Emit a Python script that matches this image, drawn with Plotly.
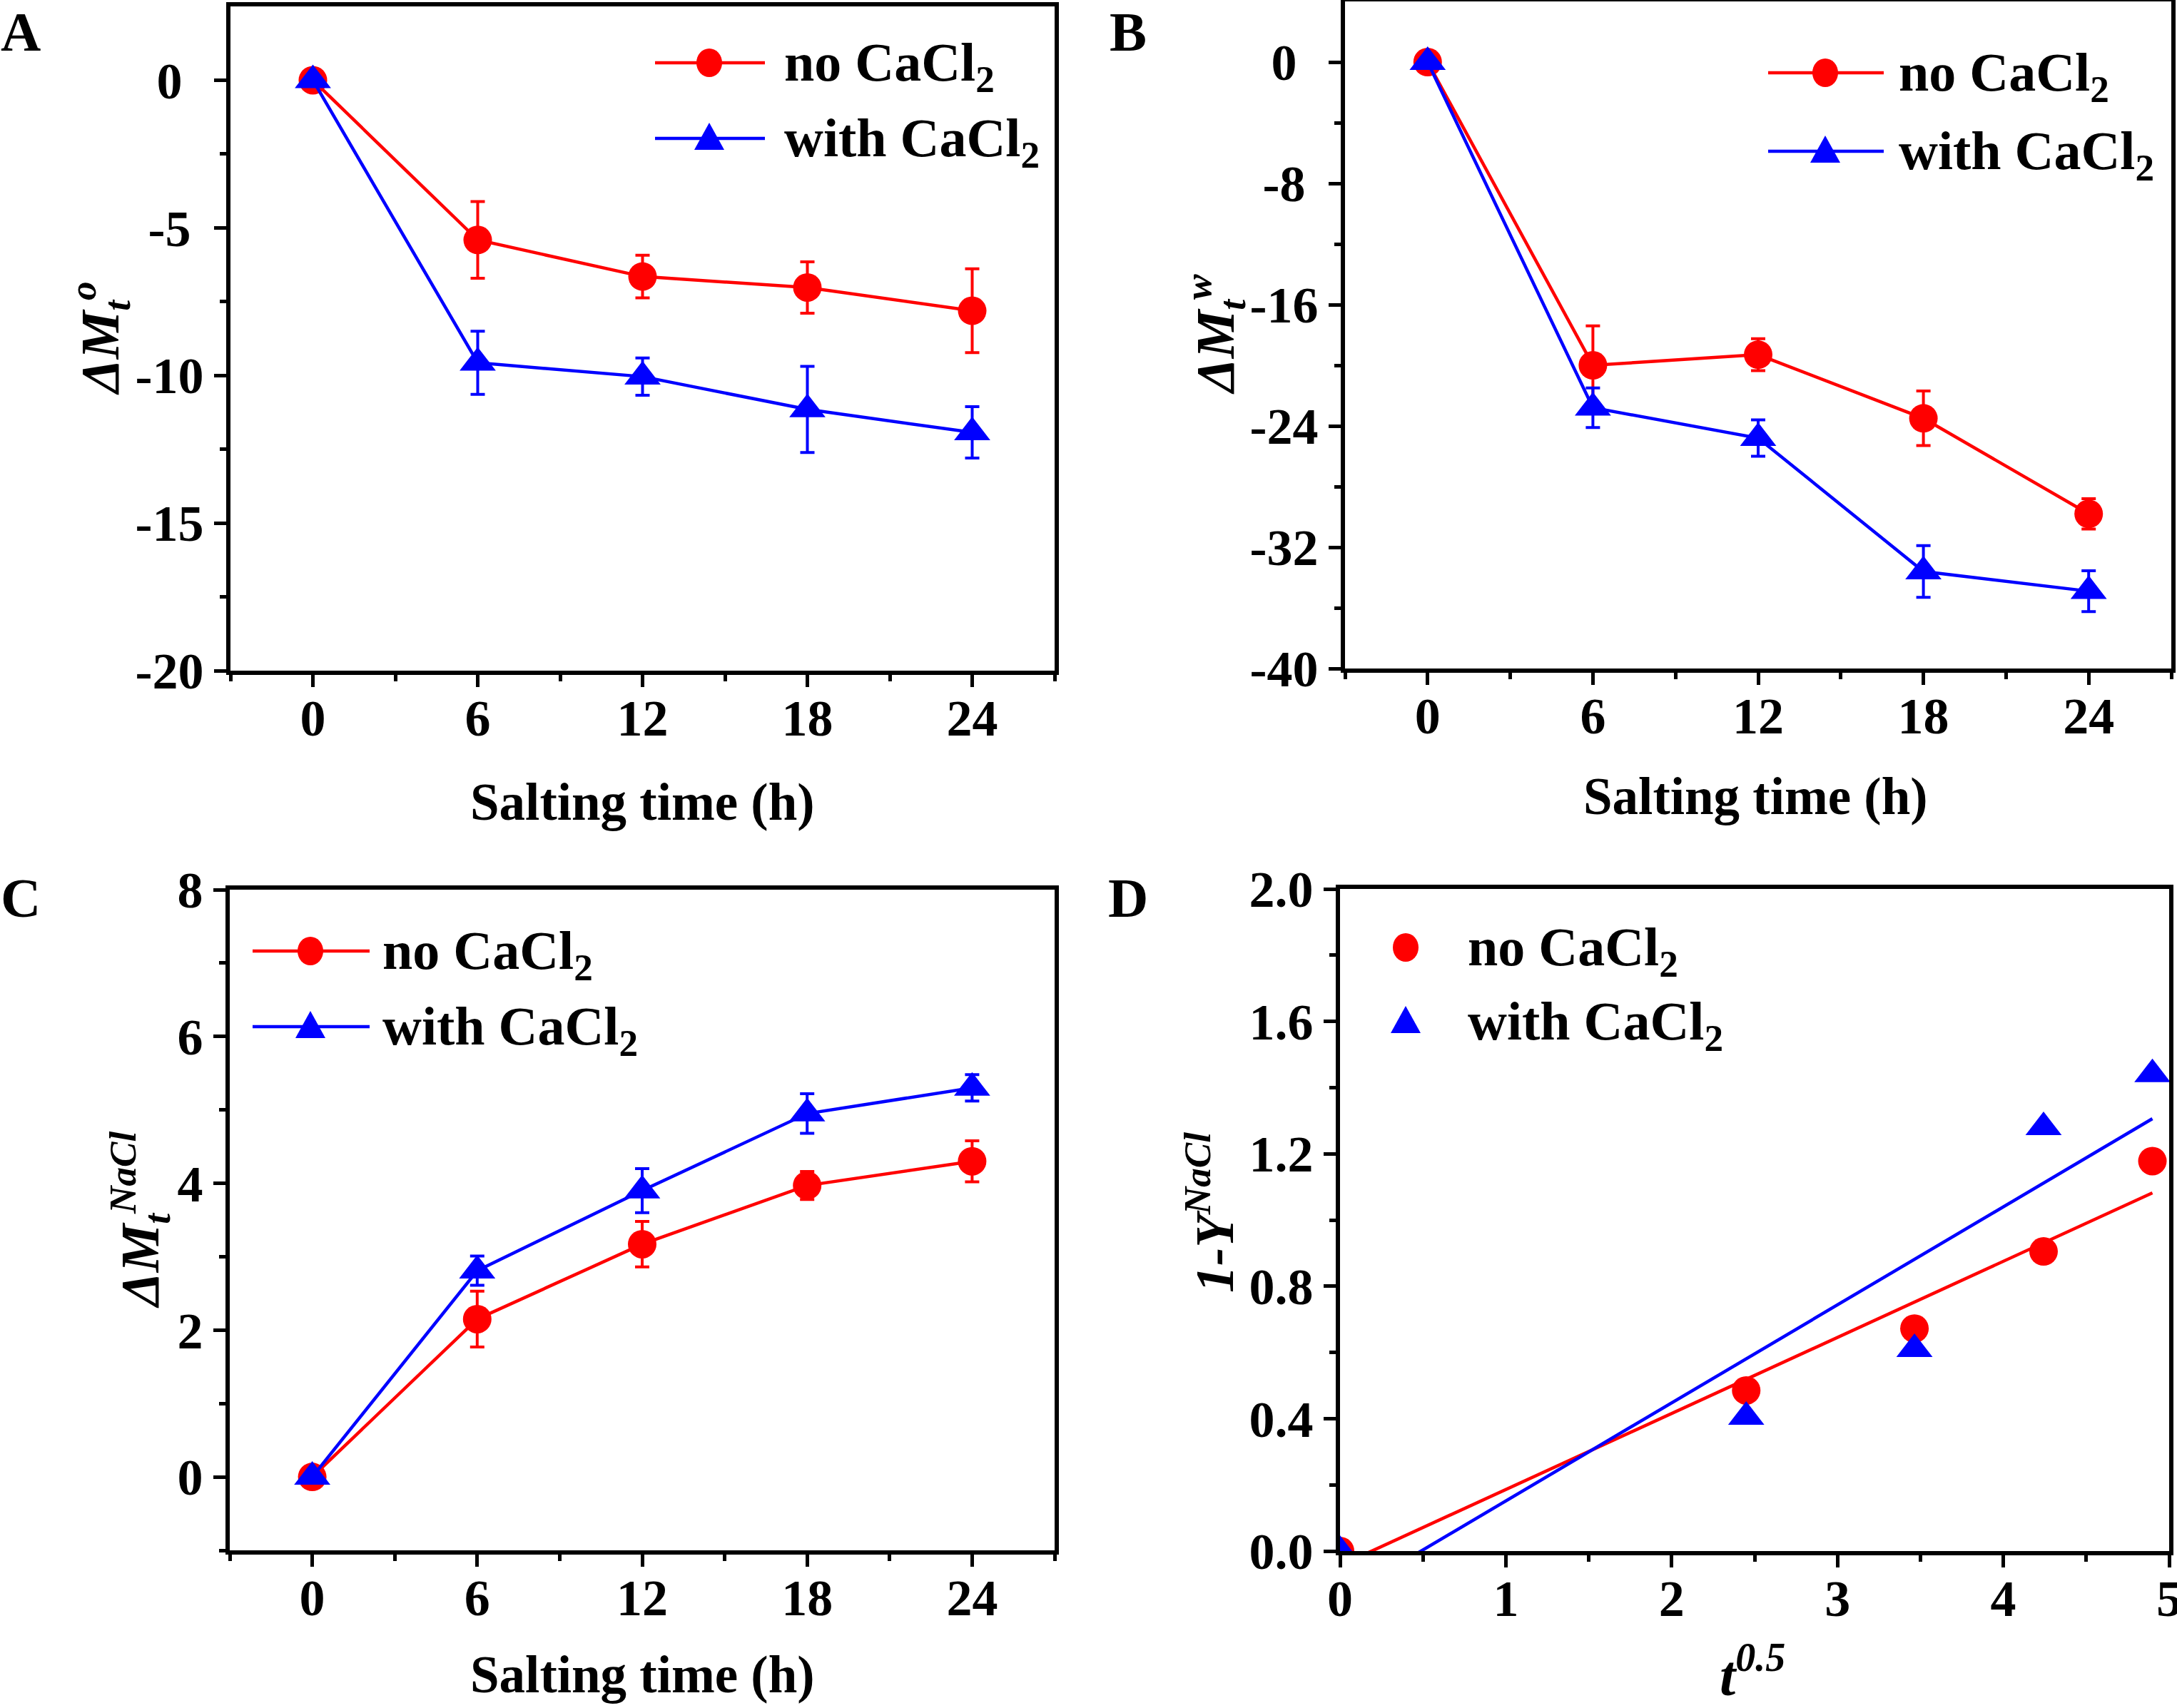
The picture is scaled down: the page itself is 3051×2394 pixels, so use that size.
import numpy as np
import plotly.graph_objects as go

# ---------------- data ----------------
time_h = [0, 6, 12, 18, 24]

A_no = [0, -5.41, -6.65, -7.02, -7.81]
A_no_err = [0, 1.30, 0.72, 0.87, 1.42]
A_with = [0, -9.57, -10.04, -11.15, -11.93]
A_with_err = [0, 1.07, 0.63, 1.46, 0.87]

B_no = [0, -20.0, -19.3, -23.5, -29.8]
B_no_err = [0, 2.6, 1.05, 1.8, 1.0]
B_with = [0, -22.8, -24.8, -33.6, -34.9]
B_with_err = [0, 1.3, 1.2, 1.7, 1.35]

C_no = [0, 2.15, 3.17, 3.97, 4.30]
C_no_err = [0, 0.38, 0.31, 0.19, 0.28]
C_with = [0, 2.81, 3.90, 4.95, 5.30]
C_with_err = [0, 0.20, 0.30, 0.27, 0.18]

D_x = np.sqrt(np.array(time_h, dtype=float))
D_no = [0, 0.485, 0.672, 0.905, 1.178]
D_with = [0, 0.405, 0.61, 1.28, 1.44]

series_names = ["no CaCl<sub>2</sub>", "with CaCl<sub>2</sub>"]

A_yticks = [0, -5, -10, -15, -20]
B_yticks = [0, -8, -16, -24, -32, -40]
C_yticks = [0, 2, 4, 6, 8]
D_yticks = [0.0, 0.4, 0.8, 1.2, 1.6, 2.0]
D_xticks = [0, 1, 2, 3, 4, 5]

# ---------------- style ----------------
W, H = 3051, 2394
RED = "#FF0000"
BLUE = "#0000FF"
FONT = "Liberation Serif"
TICK_SIZE = 72
LW = 4.5


def fx(px):
    return px / W


def fy(py):
    return 1 - py / H


# panel frames in pixels: (left, right, top, bottom)
frames = {
    1: (323, 1478, 9, 940),
    2: (1885, 3043, 2, 937),
    3: (322, 1478, 1247, 2173),
    4: (1878, 3040, 1246, 2174),
}

fig = go.Figure()


def add_series(xn, yn, err, color, symbol, size, name):
    xa = "x" if xn == 1 else f"x{xn}"
    ya = "y" if xn == 1 else f"y{xn}"
    return go.Scatter(
        x=time_h, y=yn, xaxis=xa, yaxis=ya, name=name, mode="lines+markers",
        line=dict(color=color, width=LW),
        marker=dict(color=color, symbol=symbol, size=size, line=dict(width=0)),
        error_y=dict(type="data", array=err, visible=True, color=color,
                     thickness=4, width=10),
        showlegend=False,
    )


CIRC, TRI = 40, 44
fig.add_trace(add_series(1, A_no, A_no_err, RED, "circle", CIRC, "no CaCl2"))
fig.add_trace(add_series(1, A_with, A_with_err, BLUE, "triangle-up", TRI, "with CaCl2"))
fig.add_trace(add_series(2, B_no, B_no_err, RED, "circle", CIRC, "no CaCl2"))
fig.add_trace(add_series(2, B_with, B_with_err, BLUE, "triangle-up", TRI, "with CaCl2"))
fig.add_trace(add_series(3, C_no, C_no_err, RED, "circle", CIRC, "no CaCl2"))
fig.add_trace(add_series(3, C_with, C_with_err, BLUE, "triangle-up", TRI, "with CaCl2"))

# panel D: points + linear fits
fit_no = np.polyfit(D_x, D_no, 1)
fit_with = np.polyfit(D_x, D_with, 1)
fit_x = np.array([D_x[0], D_x[-1]])

fig.add_trace(go.Scatter(x=fit_x, y=np.polyval(fit_no, fit_x), xaxis="x4", yaxis="y4",
                         mode="lines", line=dict(color=RED, width=LW), showlegend=False))
fig.add_trace(go.Scatter(x=fit_x, y=np.polyval(fit_with, fit_x), xaxis="x4", yaxis="y4",
                         mode="lines", line=dict(color=BLUE, width=LW), showlegend=False))
fig.add_trace(go.Scatter(x=D_x, y=D_no, xaxis="x4", yaxis="y4", mode="markers",
                         marker=dict(color=RED, symbol="circle", size=CIRC, line=dict(width=0)),
                         name="no CaCl2", showlegend=False))
fig.add_trace(go.Scatter(x=D_x, y=D_with, xaxis="x4", yaxis="y4", mode="markers",
                         marker=dict(color=BLUE, symbol="triangle-up", size=TRI, line=dict(width=0)),
                         name="with CaCl2", showlegend=False))


def axis_common():
    return dict(
        showline=True, linewidth=6, linecolor="black", mirror=True,
        ticks="outside", ticklen=17, tickwidth=5, tickcolor="black",
        tickfont=dict(family=FONT, size=TICK_SIZE, weight="bold", color="black"),
        showgrid=False, zeroline=False, automargin=False,
    )


def minor(vals):
    return dict(ticks="outside", ticklen=9, tickwidth=5, tickcolor="black",
                tickmode="array", tickvals=vals, showgrid=False)


def fmt(v, dec=0):
    return f"{v:.{dec}f}"


# tick labels are centred (as in the original) -> pad shorter labels with
# fixed-width unicode spaces so right-aligned labels line up on a common centre
def centred_labels(labels):
    def em(s):
        return sum(0.333 if c == "-" else 0.25 if c == "." else 0.5 for c in s)
    widest = max(em(s) for s in labels)
    out = []
    for s in labels:
        pad = (widest - em(s)) / 2
        sp = ""
        while pad > 0.2:
            sp += "\u2005"   # 0.25 em
            pad -= 0.25
        if pad > 0.1:
            sp += "\u2006"   # 0.167 em
        out.append(s + sp)
    return out


layout = dict(
    width=W, height=H,
    margin=dict(l=0, r=0, t=0, b=0, pad=0, autoexpand=False),
    paper_bgcolor="white", plot_bgcolor="white", showlegend=False,
)

time_minor = [-3, 3, 9, 15, 21, 27]
for n in (1, 2, 3):
    l, r, t, b = frames[n]
    key = "" if n == 1 else str(n)
    xa = axis_common()
    xa.update(domain=[fx(l), fx(r)], range=[-3, 27], tickmode="array",
              tickvals=time_h, ticktext=[fmt(v) for v in time_h],
              minor=minor(time_minor), anchor="y" + key, ticklabelstandoff=-18)
    layout["xaxis" + key] = xa

ya = axis_common()
l, r, t, b = frames[1]
ya.update(domain=[fy(b), fy(t)], range=[-20, 2.5], tickmode="array",
          tickvals=A_yticks, ticktext=centred_labels([fmt(v) for v in A_yticks]),
          minor=minor([-17.5, -12.5, -7.5, -2.5]), anchor="x")
layout["yaxis"] = ya

ya = axis_common()
l, r, t, b = frames[2]
ya.update(domain=[fy(b), fy(t)], range=[-40, 4], tickmode="array",
          tickvals=B_yticks, ticktext=centred_labels([fmt(v) for v in B_yticks]),
          minor=minor([-36, -28, -20, -12, -4]), anchor="x2")
layout["yaxis2"] = ya

ya = axis_common()
l, r, t, b = frames[3]
ya.update(domain=[fy(b), fy(t)], range=[-1, 8], tickmode="array",
          tickvals=C_yticks, ticktext=[fmt(v) for v in C_yticks],
          minor=minor([-1, 1, 3, 5, 7]), anchor="x3")
layout["yaxis3"] = ya

xa = axis_common()
l, r, t, b = frames[4]
xa.update(domain=[fx(l), fx(r)], range=[0, 5], tickmode="array",
          tickvals=D_xticks, ticktext=[fmt(v) for v in D_xticks],
          minor=minor([0.5, 1.5, 2.5, 3.5, 4.5]), anchor="y4", ticklabelstandoff=-18,
          ticklabeloverflow="allow")
layout["xaxis4"] = xa
ya = axis_common()
ya.update(domain=[fy(b), fy(t)], range=[0, 2], tickmode="array",
          tickvals=D_yticks, ticktext=[fmt(v, 1) for v in D_yticks],
          minor=minor([0.2, 0.6, 1.0, 1.4, 1.8]), anchor="x4")
layout["yaxis4"] = ya

fig.update_layout(**layout)

# ---------------- text ----------------
ann = []
bold = dict(family=FONT, size=73, color="black", weight="bold")
leg_font = dict(family=FONT, size=76, color="black", weight="bold")
bold_it = dict(family=FONT, size=76, color="black", weight="bold", style="italic")


def add_text(text, x, y, font, angle=0, xanchor="center", yanchor="middle"):
    ann.append(dict(text=text, x=fx(x), y=fy(y), xref="paper", yref="paper",
                    showarrow=False, font=font, textangle=angle,
                    xanchor=xanchor, yanchor=yanchor, borderpad=0))


# panel letters
letter_font = dict(family=FONT, size=78, color="black", weight="bold")
add_text("A", 0, 0, letter_font, xanchor="left", yanchor="top")
add_text("B", 1554, 0, letter_font, xanchor="left", yanchor="top")
add_text("C", 0, 1214, letter_font, xanchor="left", yanchor="top")
add_text("D", 1552, 1214, letter_font, xanchor="left", yanchor="top")

# x titles
add_text("Salting time (h)", 900, 1124, bold)
add_text("Salting time (h)", 2460, 1116, bold)
add_text("Salting time (h)", 900, 2347, bold)
add_text("t<sup>0.5</sup>", 2456, 2342, dict(bold_it, size=80))

# y titles (centred on each panel's vertical extent)
add_text("ΔM<sub>t</sub><sup>o</sup>", 140, 474, bold_it, angle=-90)
add_text("ΔM<sub>t</sub><sup>w</sup>", 1703, 469, bold_it, angle=-90)
add_text("ΔM<sub>t</sub><sup>NaCl</sup>", 196, 1710, bold_it, angle=-90)
add_text("1-Y<sup>NaCl</sup>", 1696, 1700, bold_it, angle=-90)

# ---------------- manual legends ----------------
shapes = []


def legend_row(y, color, symbol, label, text_x, marker_x, line_x=None):
    if line_x is not None:
        shapes.append(dict(type="line", xref="paper", yref="paper",
                           x0=fx(line_x[0]), x1=fx(line_x[1]), y0=fy(y), y1=fy(y),
                           line=dict(color=color, width=LW)))
    if symbol == "circle":
        shapes.append(dict(type="circle", xref="paper", yref="paper",
                           xsizemode="pixel", ysizemode="pixel",
                           xanchor=fx(marker_x), yanchor=fy(y),
                           x0=-18, x1=18, y0=-20, y1=20,
                           fillcolor=color, line=dict(width=0)))
    else:
        shapes.append(dict(type="path", xref="paper", yref="paper",
                           xsizemode="pixel", ysizemode="pixel",
                           xanchor=fx(marker_x), yanchor=fy(y),
                           path="M-21,-16 L21,-16 L0,22 Z",
                           fillcolor=color, line=dict(width=0)))
    add_text(label, text_x, y + 5, leg_font, xanchor="left")


legend_row(88, RED, "circle", series_names[0], 1098, 994, (918, 1072))
legend_row(194, BLUE, "triangle", series_names[1], 1098, 994, (918, 1072))

legend_row(102, RED, "circle", series_names[0], 2660, 2558, (2478, 2640))
legend_row(212, BLUE, "triangle", series_names[1], 2660, 2558, (2478, 2640))

legend_row(1333, RED, "circle", series_names[0], 535, 435, (354, 518))
legend_row(1439, BLUE, "triangle", series_names[1], 535, 435, (354, 518))

legend_row(1328, RED, "circle", series_names[0], 2056, 1970)
legend_row(1432, BLUE, "triangle", series_names[1], 2056, 1970)

fig.update_layout(annotations=ann, shapes=shapes)

fig.write_html("out.html")
